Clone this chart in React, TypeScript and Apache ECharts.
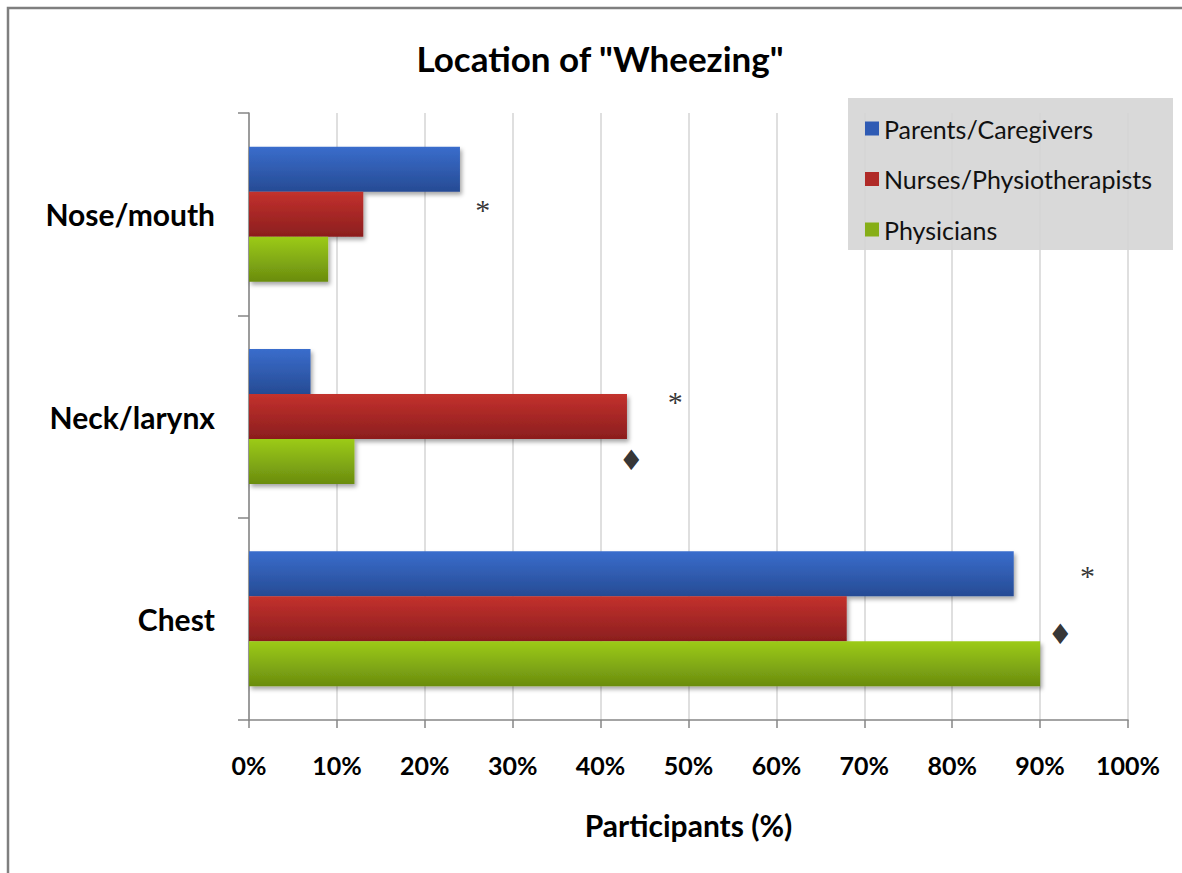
import React, { useEffect, useRef } from "react";
import * as echarts from "echarts";

const categories = ["Chest", "Neck/larynx", "Nose/mouth"];
const seriesNames = ["Parents/Caregivers", "Nurses/Physiotherapists", "Physicians"];
const parents = [87, 7, 24];
const nurses = [68, 43, 13];
const physicians = [90, 12, 9];
const xTickValues = [0, 10, 20, 30, 40, 50, 60, 70, 80, 90, 100];

// significance markers: text, x value (%), y position in category units (0 = bottom of "Chest")
const annotationText = ["*", "*", "♦", "*", "♦"];
const annotationX = [26.6, 48.5, 43.5, 95.4, 92.3];
const annotationY = [2.555, 1.606, 1.285, 0.746, 0.425];

const FONT = "Lato, 'Open Sans', sans-serif";

const grad = (top: string, bottom: string) =>
  new echarts.graphic.LinearGradient(0, 0, 0, 1, [
    { offset: 0, color: top },
    { offset: 1, color: bottom },
  ]);

const colors = [
  { top: "#3a6dcc", bottom: "#264b94", flat: "#2f5bb4" },
  { top: "#c3312d", bottom: "#8b1e1e", flat: "#b02a27" },
  { top: "#9ccb19", bottom: "#6a8c0f", flat: "#86ae17" },
];
const values = [parents, nurses, physicians];

export default function App() {
  const ref = useRef<HTMLDivElement>(null);
  useEffect(() => {
    if (!ref.current) return;
    const chart = echarts.init(ref.current, null, { renderer: "svg" });
    const barSeries = seriesNames.map((name, i) => ({
      name,
      type: "bar",
      yAxisIndex: 0,
      data: values[i],
      barWidth: 45,
      barGap: "0%",
      itemStyle: {
        color: grad(colors[i].top, colors[i].bottom),
        shadowColor: "rgba(0,0,0,0.35)",
        shadowBlur: 4,
        shadowOffsetX: 2,
        shadowOffsetY: 3,
      },
    }));
    chart.setOption({
      animation: false,
      backgroundColor: "#ffffff",
      title: {
        text: 'Location of "Wheezing"',
        left: 595,
        top: 35,
        textAlign: "center",
        textStyle: { fontFamily: FONT, fontWeight: "bold", fontSize: 35, color: "#000" },
      },
      legend: {
        orient: "vertical",
        left: 860,
        top: 111,
        icon: "rect",
        itemWidth: 14,
        itemHeight: 14,
        itemGap: 25.5,
        data: seriesNames.map((n, i) => ({ name: n, itemStyle: { color: colors[i].flat } })),
        textStyle: { fontFamily: FONT, fontSize: 25, color: "#111", lineHeight: 24 },
      },
      grid: { left: 249, top: 113, right: 54, bottom: 153 },
      xAxis: {
        type: "value",
        min: 0,
        max: 100,
        interval: 10,
        name: "Participants (%)",
        nameLocation: "middle",
        nameGap: 90,
        nameTextStyle: { fontFamily: FONT, fontWeight: "bold", fontSize: 30, color: "#000" },
        axisLine: { show: true, lineStyle: { color: "#868686", width: 1.5 } },
        axisTick: { show: true, length: 8, lineStyle: { color: "#868686", width: 1.5 } },
        splitLine: { show: true, lineStyle: { color: "#d4d4d4", width: 1.5 } },
        axisLabel: {
          margin: 32,
          fontFamily: FONT,
          fontWeight: "bold",
          fontSize: 25,
          color: "#000",
          customValues: xTickValues,
          formatter: "{value}%",
        },
      },
      yAxis: [
        {
          type: "category",
          data: categories,
          axisLine: { show: true, lineStyle: { color: "#868686", width: 1.5 } },
          axisTick: { show: true, length: 11, lineStyle: { color: "#868686", width: 1.5 } },
          axisLabel: { margin: 34, fontFamily: FONT, fontWeight: "bold", fontSize: 30, color: "#000" },
        },
        { type: "value", min: 0, max: 3, show: false },
      ],
      graphic: [
        {
          type: "rect",
          z: -10,
          shape: { x: 8, y: 8, width: 1300, height: 1000 },
          style: { fill: "none", stroke: "#7f7f7f", lineWidth: 2.5 },
        },
        {
          type: "rect",
          z: 0,
          shape: { x: 848, y: 98, width: 325, height: 152 },
          style: { fill: "#d9d9d9" },
        },
      ],
      series: [
        ...barSeries,
        {
          type: "scatter",
          yAxisIndex: 1,
          symbolSize: 0,
          silent: true,
          data: annotationX.map((x, i) => {
            const star = annotationText[i] === "*";
            return {
              value: [x, annotationY[i]],
              name: annotationText[i],
              label: star
                ? { fontSize: 30, fontFamily: "'Liberation Serif', serif", offset: [0, 6] }
                : { fontSize: 28, fontFamily: "'DejaVu Sans', sans-serif", offset: [0, 0] },
            };
          }),
          label: {
            show: true,
            position: "inside",
            formatter: (p: any) => p.name,
            color: "#000",
          },
        },
      ],
    });
    return () => chart.dispose();
  }, []);
  return <div ref={ref} style={{ position: "fixed", left: 0, top: 0, width: 1182, height: 873 }} />;
}
